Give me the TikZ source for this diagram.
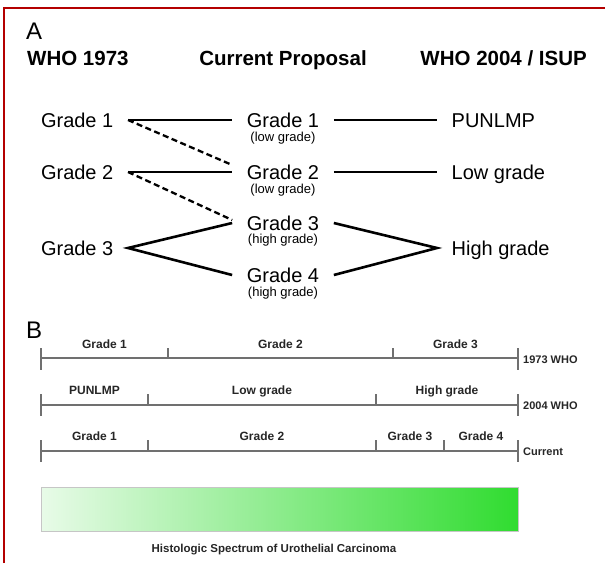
\documentclass[tikz,border=0pt]{standalone}
\usepackage{fontspec}
\setmainfont{Liberation Sans}
\usetikzlibrary{positioning,calc}

\definecolor{frameRed}{HTML}{B40000}
\definecolor{scaleGray}{HTML}{707070}
\definecolor{labelGray}{HTML}{262626}
\definecolor{specLight}{HTML}{E8FBE8}
\definecolor{specDark}{HTML}{30DC30}

\tikzset{
  grade/.style={font=\fontsize{20}{24}\selectfont, inner ysep=0pt, inner xsep=14.5pt,
    text height=14.4pt, text depth=0pt},
  subgrade/.style={font=\fontsize{13}{16}\selectfont, inner sep=0pt,
    text height=9.5pt, text depth=2.7pt},
  header/.style={font=\bfseries\fontsize{20.5}{24}\selectfont, inner sep=0pt,
    text height=14.7pt, text depth=0pt},
  panel/.style={font=\fontsize{24}{28}\selectfont, inner sep=0pt, anchor=west,
    text height=17.2pt, text depth=0pt},
  link/.style={line width=2.6pt, black},
  cross/.style={link, line width=2.3pt, dash pattern=on 6pt off 3.5pt},
  scaleline/.style={line width=1.1pt, draw=scaleGray},
  scalelabel/.style={font=\bfseries\fontsize{12}{14}\selectfont, text=labelGray,
    inner sep=0pt, text height=8.6pt, text depth=0pt},
  rowlabel/.style={scalelabel, font=\bfseries\fontsize{11}{13}\selectfont, anchor=west},
}

\begin{document}
\begin{tikzpicture}[x=1pt, y=-1pt]
  \useasboundingbox (0,0) rectangle (605,563);

  % --- 0. frame ---
  \draw[frameRed, line width=2pt] (4,563) -- (4,8) -- (605,8);

  % --- 1. panel A: headers ---
  \node[panel] (panelA) at (26,30.5) {A};
  \node[header, anchor=west] (hOld) at (27,58.5) {WHO 1973};
  \node[header] (hNew) at (283,58.5) {Current Proposal};
  \node[header, anchor=east] (hIsup) at (587,58.5) {WHO 2004 / ISUP};

  % --- 2. panel A: the three columns ---
  % WHO 1973
  \node[grade, anchor=east] (old1) at (128,120) {Grade 1};
  \node[grade, anchor=east] (old2) at (128,172) {Grade 2};
  \node[grade, anchor=east] (old3) at (128,248) {Grade 3};
  % current proposal
  \node[grade] (new1) at (283,120) {Grade 1};
  \node[subgrade, below=4pt of new1] (new1sub) {(low grade)};
  \node[grade] (new2) at (283,172) {Grade 2};
  \node[subgrade, below=4pt of new2] (new2sub) {(low grade)};
  \node[grade] (new3) at (283,223) {Grade 3};
  \node[subgrade, below=3pt of new3] (new3sub) {(high grade)};
  \node[grade] (new4) at (283,275) {Grade 4};
  \node[subgrade, below=4pt of new4] (new4sub) {(high grade)};
  % WHO 2004 / ISUP
  \node[grade, anchor=west] (isup1) at (437,120) {PUNLMP};
  \node[grade, anchor=west] (isup2) at (437,172) {Low grade};
  \node[grade, anchor=west] (isup3) at (437,248) {High grade};

  % --- 3. panel A: connectors ---
  \draw[link] (old1.east) -- (new1.west);
  \draw[link] (new1.east) -- (isup1.west);
  \draw[link] (old2.east) -- (new2.west);
  \draw[link] (new2.east) -- (isup2.west);
  \draw[link] (new3.west) -- (old3.east) -- (new4.west);
  \draw[link] (new3.east) -- (isup3.west) -- (new4.east);
  % overlaps
  \draw[cross] (old1.east) -- ($(new2.west)+(0,-7)$);
  \draw[cross] (old2.east) -- ($(new3.west)+(0,-3)$);

  % --- 4. panel B: scales ---
  \node[panel] (panelB) at (26,329.5) {B};

  % 1973 WHO
  \draw[scaleline] (41,358) -- (518,358);
  \draw[scaleline] (41,348) -- (41,370);
  \draw[scaleline] (518,348) -- (518,370);
  \foreach \tx in {168,393} \draw[scaleline] (\tx,348) -- (\tx,358);
  \node[scalelabel] (oldG1) at (104.5,344) {Grade 1};
  \node[scalelabel] (oldG2) at (280.5,344) {Grade 2};
  \node[scalelabel] (oldG3) at (455.5,344) {Grade 3};
  \node[rowlabel] (rowOld) at (523,359) {1973 WHO};

  % 2004 WHO
  \draw[scaleline] (41,405) -- (518,405);
  \draw[scaleline] (41,394) -- (41,416);
  \draw[scaleline] (518,394) -- (518,416);
  \foreach \tx in {148,376} \draw[scaleline] (\tx,394) -- (\tx,405);
  \node[scalelabel] (isupG1) at (94.5,390) {PUNLMP};
  \node[scalelabel] (isupG2) at (262,390) {Low grade};
  \node[scalelabel] (isupG3) at (447,390) {High grade};
  \node[rowlabel] (rowIsup) at (523,405) {2004 WHO};

  % current
  \draw[scaleline] (41,451) -- (518,451);
  \draw[scaleline] (41,440) -- (41,462);
  \draw[scaleline] (518,440) -- (518,462);
  \foreach \tx in {148,376,444} \draw[scaleline] (\tx,440) -- (\tx,451);
  \node[scalelabel] (newG1) at (94.5,436) {Grade 1};
  \node[scalelabel] (newG2) at (262,436) {Grade 2};
  \node[scalelabel] (newG3) at (410,436) {Grade 3};
  \node[scalelabel] (newG4) at (481,436) {Grade 4};
  \node[rowlabel] (rowNew) at (523,451) {Current};

  % --- 5. spectrum bar ---
  \shade[left color=specLight, right color=specDark] (41,487) rectangle (518,531);
  \draw[gray!45, line width=0.8pt] (41,487) rectangle (518,531);
  \node[scalelabel, font=\bfseries\fontsize{11.5}{14}\selectfont] (spectrum) at (274,548)
    {Histologic Spectrum of Urothelial Carcinoma};

\end{tikzpicture}
\end{document}
